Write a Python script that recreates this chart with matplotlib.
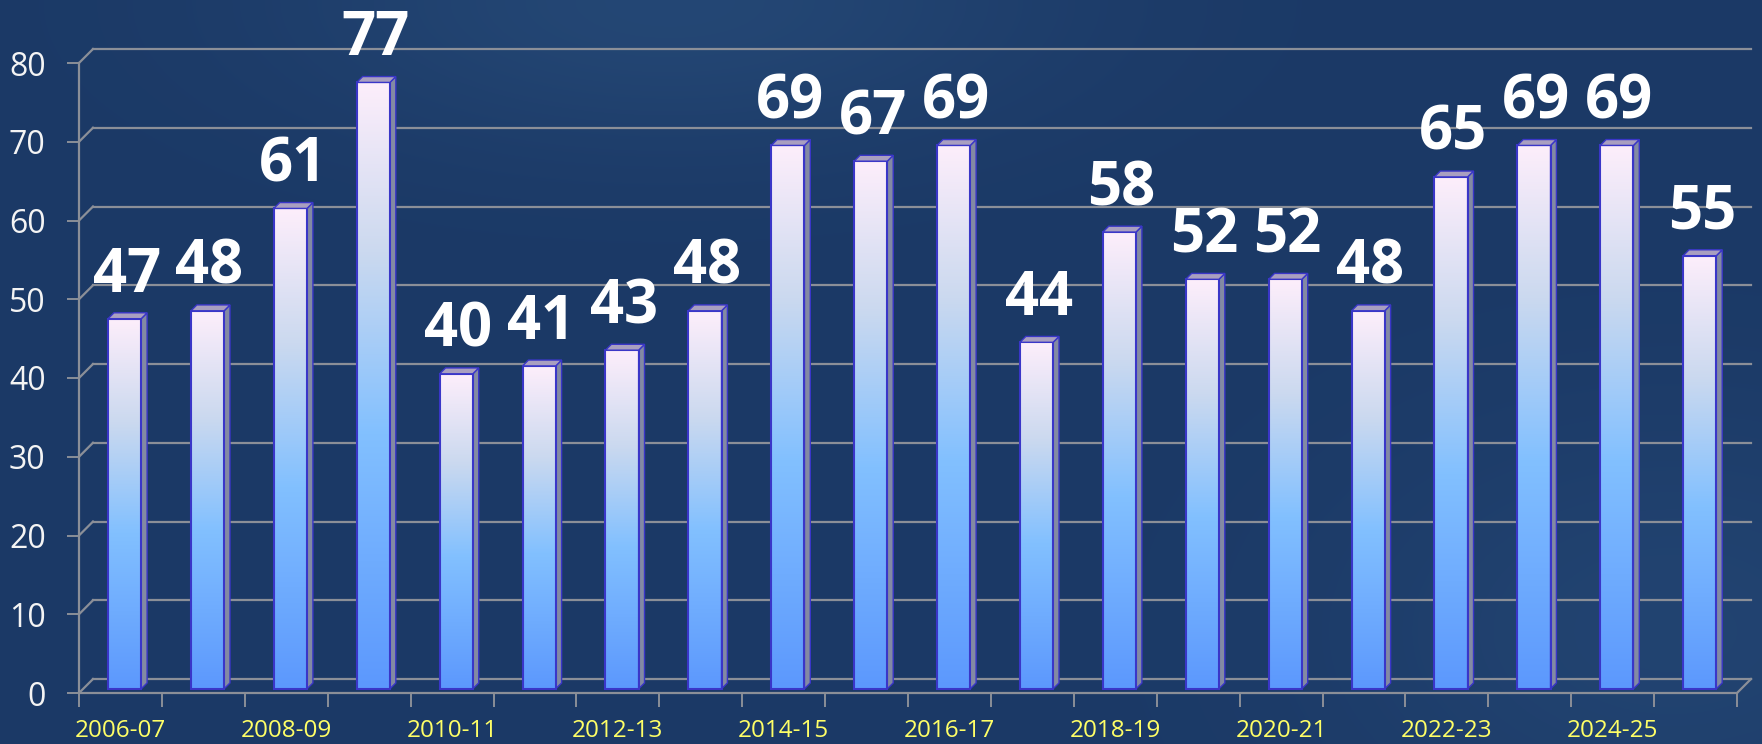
import numpy as np
import matplotlib
matplotlib.use('Agg')
import matplotlib.pyplot as plt
import matplotlib.transforms as mtransforms
from matplotlib.patches import Polygon, Rectangle
from matplotlib.colors import LinearSegmentedColormap

# 데이터
seasons = ['2006-07', '2007-08', '2008-09', '2009-10', '2010-11', '2011-12', '2012-13',
           '2013-14', '2014-15', '2015-16', '2016-17', '2017-18', '2018-19', '2019-20',
           '2020-21', '2021-22', '2022-23', '2023-24', '2024-25', '2025-26']
values = [47, 48, 61, 77, 40, 41, 43, 48, 69, 67, 69, 44, 58, 52, 52, 48, 65, 69, 69, 55]
y_ticks = [0, 10, 20, 30, 40, 50, 60, 70, 80]

plt.rcParams['font.family'] = ['Open Sans', 'DejaVu Sans']

W, H = 1762, 744
fig = plt.figure(figsize=(W / 100, H / 100), dpi=100)

# 배경 그라데이션
bg = fig.add_axes([0, 0, 1, 1], zorder=-5)
yy, xx = np.mgrid[0:1:200j, 0:1:400j]
spot = np.exp(-(((xx - 0.38) / 0.22) ** 2 + ((yy - 0.0) / 0.2) ** 2))
spot2 = np.exp(-(((xx - 0.95) / 0.2) ** 2 + ((yy - 0.85) / 0.3) ** 2))
base = np.array([27, 57, 102]) / 255
light = np.array([42, 80, 126]) / 255
mix = np.clip(spot * 0.6 + spot2 * 0.45, 0, 1)[..., None]
bg.imshow(base * (1 - mix) + light * mix, aspect='auto', extent=[0, 1, 0, 1], interpolation='bilinear')
bg.axis('off')

# 메인 축 (앞면 기준)
x0, x1, y0, y1 = 79, 1737, 693, 63
ax = fig.add_axes([x0 / W, 1 - y0 / H, (x1 - x0) / W, (y0 - y1) / H])
ax.set_facecolor('none')
n = len(values)
ax.set_xlim(-0.5, n - 0.5)
ax.set_ylim(0, 80)

grid_c = '#8b8f98'
DX, DY = 14, 14  # 깊이 (픽셀)

def depth(x, y, d):
    p = ax.transData.transform((x, y))
    return (p[0] + d * DX, p[1] + d * DY)

ident = mtransforms.IdentityTransform()
back = mtransforms.offset_copy(ax.transData, fig=fig, x=DX, y=DY, units='dots')

# 뒷벽 격자선 + 옆벽 사선
for v in y_ticks:
    ax.plot([-0.5, n - 0.5], [v, v], color=grid_c, lw=1.6, transform=back, clip_on=False, zorder=1)
    a = depth(-0.5, v, 0)
    b = depth(-0.5, v, 1)
    ax.plot([a[0], b[0]], [a[1], b[1]], color=grid_c, lw=1.6, transform=ident, clip_on=False, zorder=1)
a = depth(n - 0.5, 0, 0)
b = depth(n - 0.5, 0, 1)
ax.plot([a[0], b[0]], [a[1], b[1]], color=grid_c, lw=1.6, transform=ident, clip_on=False, zorder=1)

# 막대 색
bar_cmap = LinearSegmentedColormap.from_list('bar', [
    (0.0, '#5c98fd'), (0.42, '#82c0ff'), (0.72, '#cbd9ef'), (1.0, '#fdeefb')])
grad = bar_cmap(np.linspace(1, 0, 256))[:, None, :]

w = 0.4
d0, d1 = 0.3, 0.72
front = mtransforms.offset_copy(ax.transData, fig=fig, x=d0 * DX, y=d0 * DY, units='dots')
edge_c = '#3a36c8'
for i, v in enumerate(values):
    xl, xr = i - w / 2, i + w / 2
    ax.imshow(grad, extent=[xl, xr, 0, v], aspect='auto', transform=front,
              interpolation='bilinear', zorder=3, clip_on=False)
    ax.add_patch(Rectangle((xl, 0), w, v, fill=False, ec=edge_c, lw=1.5,
                           transform=front, zorder=4, clip_on=False))
    side = [depth(xr, 0, d0), depth(xr, 0, d1), depth(xr, v, d1), depth(xr, v, d0)]
    ax.add_patch(Polygon(side, closed=True, fc='#838aa3', ec=edge_c, lw=1.0,
                         transform=ident, zorder=3, clip_on=False))
    top = [depth(xl, v, d0), depth(xr, v, d0), depth(xr, v, d1), depth(xl, v, d1)]
    ax.add_patch(Polygon(top, closed=True, fc='#a99fc0', ec=edge_c, lw=1.0,
                         transform=ident, zorder=4, clip_on=False))
    lab = mtransforms.offset_copy(ax.transData, fig=fig, x=d0 * DX + 2, y=d0 * DY + 27, units='dots')
    ax.text(i, v, str(v), transform=lab, ha='center', va='baseline', color='white',
            fontsize=43, fontweight='bold', zorder=6, clip_on=False)

# 축
for s in ['top', 'right']:
    ax.spines[s].set_visible(False)
for s in ['left', 'bottom']:
    ax.spines[s].set_color(grid_c)
    ax.spines[s].set_linewidth(1.6)
ax.set_yticks(y_ticks)
ax.tick_params(axis='y', colors=grid_c, length=9, width=1.4, pad=15, labelsize=23,
               labelcolor='#f4f4f4')
ax.set_xticks(range(0, n, 2))
ax.set_xticklabels(seasons[::2])
ax.set_xticks(np.arange(-0.5, n, 1), minor=True)
ax.tick_params(axis='x', which='major', length=0, pad=19, labelsize=17.5, labelcolor='#ffff66')
ax.tick_params(axis='x', which='minor', length=10, width=1.4, color=grid_c)

fig.savefig('out.png', dpi=100)
